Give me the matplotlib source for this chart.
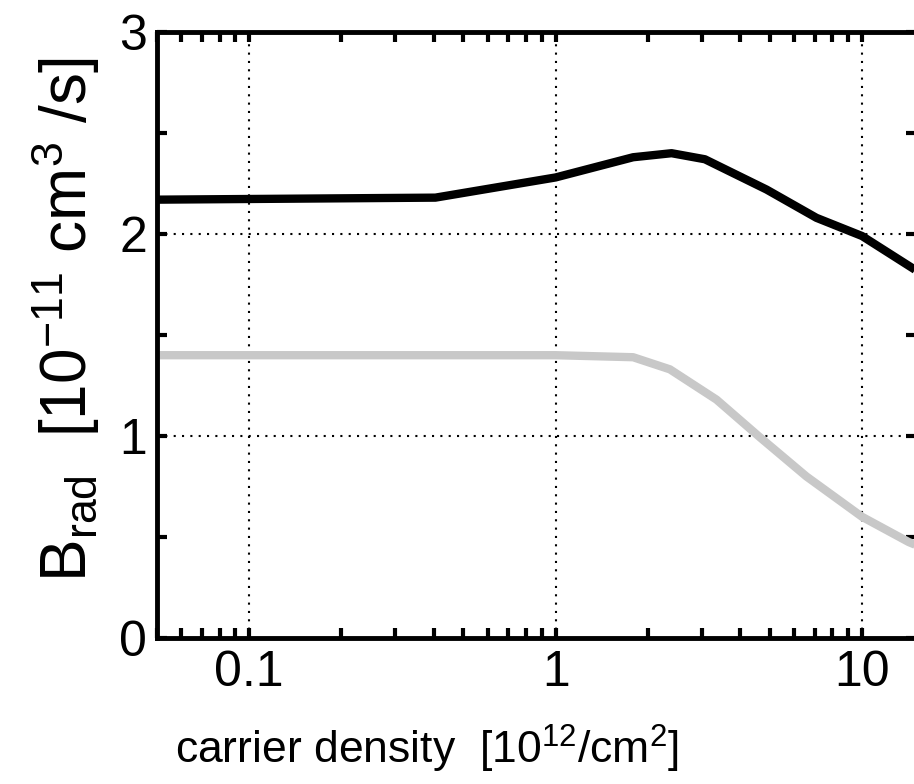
import matplotlib
matplotlib.use("Agg")
import matplotlib.pyplot as plt
from matplotlib.ticker import FixedLocator, NullFormatter

plt.rcParams["font.family"] = ["Liberation Sans", "DejaVu Sans"]
plt.rcParams["mathtext.default"] = "regular"

# carrier density [1e12 /cm^2] and B_rad [1e-11 cm^3/s]
n_black = [0.05, 0.405, 1.0, 1.79, 2.39, 3.07, 4.88, 7.1, 10.0, 15.0]
b_black = [2.17, 2.18, 2.28, 2.38, 2.40, 2.37, 2.22, 2.08, 1.99, 1.82]

n_gray = [0.05, 1.0, 1.79, 2.36, 3.35, 4.63, 6.58, 10.0, 14.2, 15.0]
b_gray = [1.40, 1.40, 1.39, 1.33, 1.18, 0.995, 0.80, 0.60, 0.475, 0.46]

x_major = [0.1, 1, 10]
x_labels = ["0.1", "1", "10"]
y_major = [0, 1, 2, 3]
y_minor = [0.5, 1.5, 2.5]

fig = plt.figure(figsize=(9.14, 7.84), dpi=100)
ax = fig.add_axes([157 / 914, 1 - 638 / 784, (916 - 157) / 914, (638 - 32) / 784])

ax.plot(n_gray, b_gray, color="#c8c8c8", linewidth=6, solid_capstyle="butt")
ax.plot(n_black, b_black, color="black", linewidth=6, solid_capstyle="butt")

ax.set_xscale("log")
ax.set_xlim(0.05, 15)
ax.set_ylim(0, 3)

ax.xaxis.set_major_locator(FixedLocator(x_major))
ax.set_xticklabels(x_labels)
minors = [m * d for d in [0.01, 0.1, 1] for m in range(2, 10)]
ax.xaxis.set_minor_locator(FixedLocator([v for v in minors if 0.05 <= v <= 15]))
ax.xaxis.set_minor_formatter(NullFormatter())
ax.yaxis.set_major_locator(FixedLocator(y_major))
ax.yaxis.set_minor_locator(FixedLocator(y_minor))

ax.grid(True, which="major", linestyle=(0, (1, 3)), color="black", linewidth=1.5)
ax.tick_params(which="both", direction="in", top=True, right=True,
               width=3, length=7, labelsize=36)
ax.tick_params(axis="x", pad=9)
ax.tick_params(axis="y", pad=7)

for s in ax.spines.values():
    s.set_linewidth(3.5)

fig.text(427 / 914, 1 - 764 / 784, "carrier density  [10$^{12}$/cm$^{2}$]",
         fontsize=32, ha="center", va="baseline")
fig.text(66 / 914, 1 - 320 / 784, "B$_{rad}$  [10$^{-11}$ cm$^{3}$ /s]",
         fontsize=46, rotation=90, ha="center", va="center")

fig.savefig("out.png", dpi=100)
